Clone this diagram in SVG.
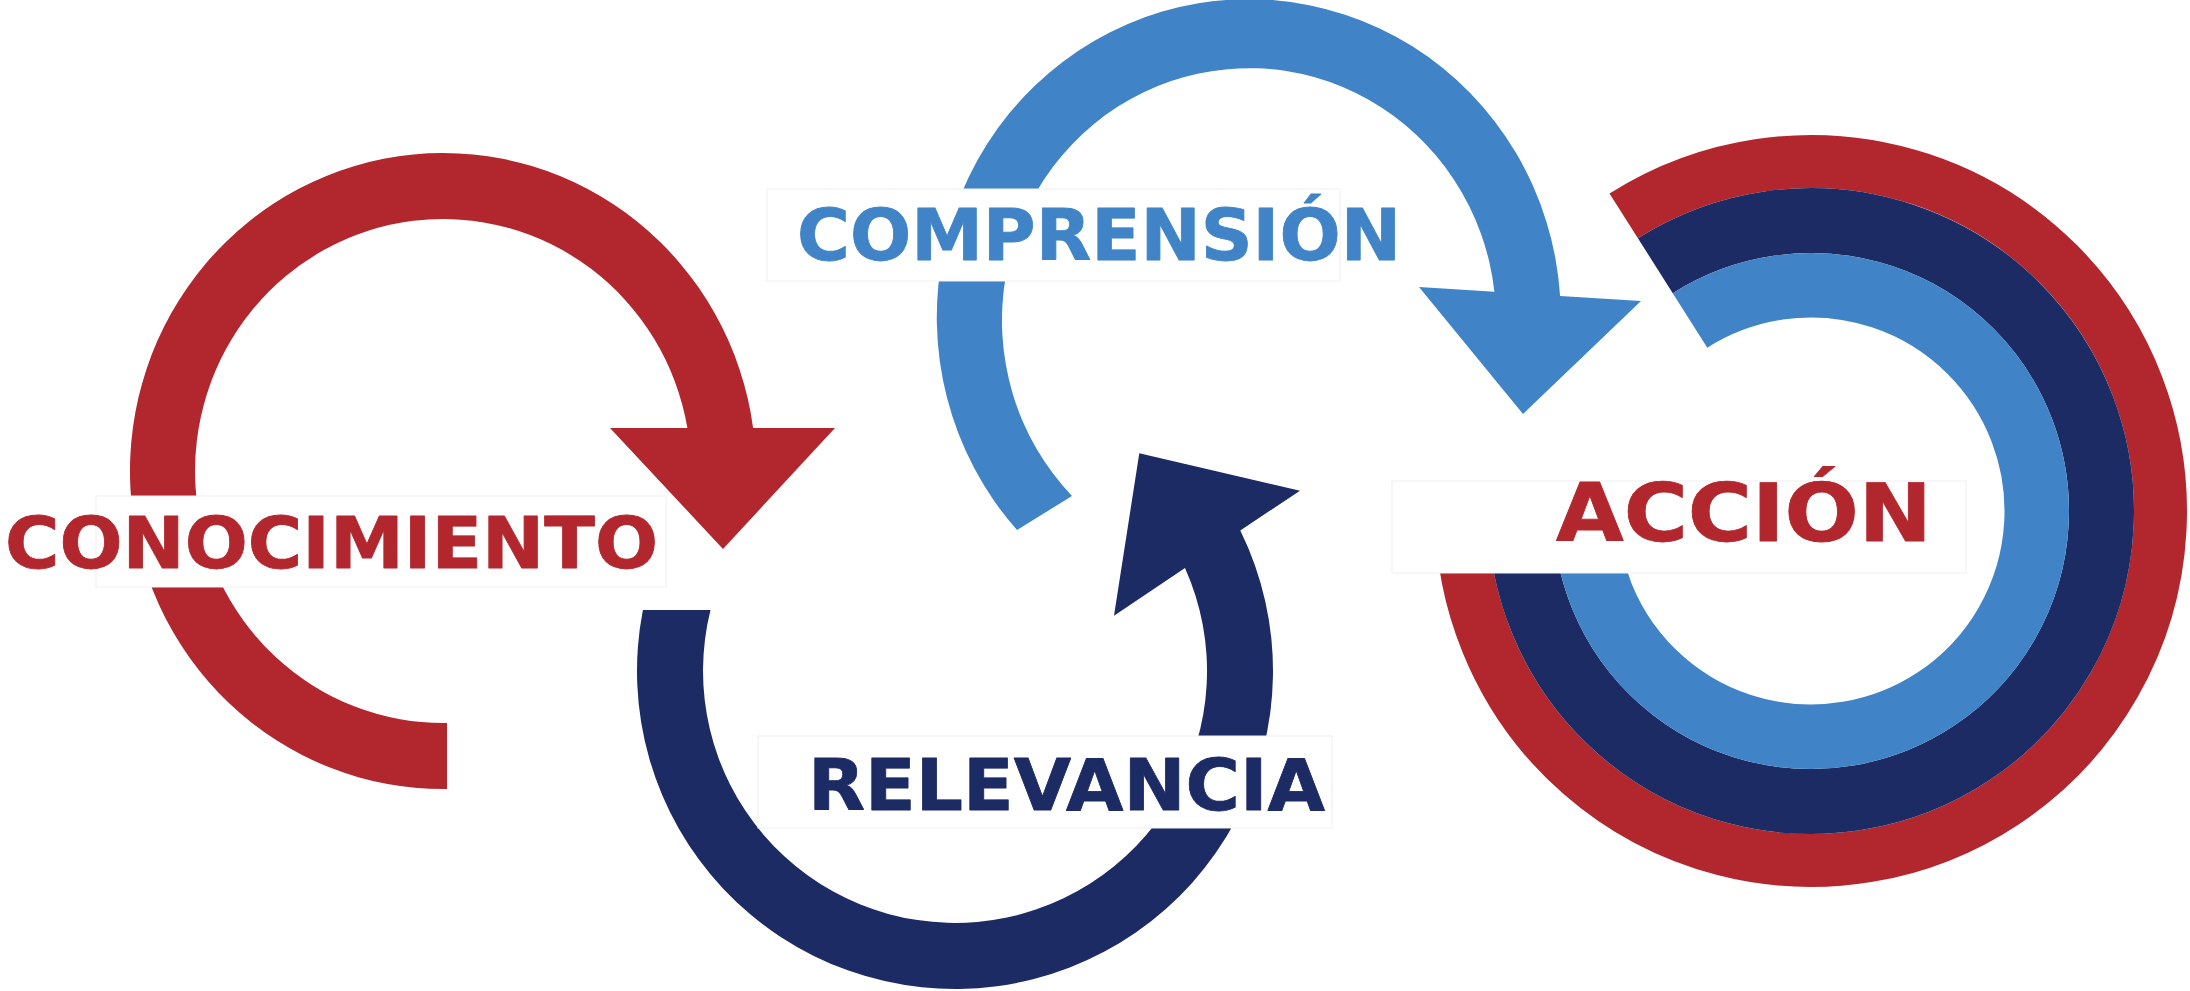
<svg xmlns="http://www.w3.org/2000/svg" width="2190" height="991" viewBox="0 0 2190 991">
  <style>
    .red { fill: #B2272E; }
    .navy { fill: #1C2B64; }
    .blue { fill: #4084C7; }
    .ring { fill: none; stroke-linecap: butt; }
    .box { fill: #ffffff; stroke: #f0f0f0; stroke-width: 1; }
    .label { font-family: "DejaVu Sans", "Liberation Sans", sans-serif; font-weight: bold; stroke-width: 0.8; stroke-linejoin: round; }
    .lbl-red { fill: #B2272E; stroke: #B2272E; }
    .lbl-navy { fill: #1C2B64; stroke: #1C2B64; }
    .lbl-blue { fill: #4084C7; stroke: #4084C7; }
  </style>
  <rect width="2190" height="991" fill="#ffffff"/>

  <!-- ACCIÓN: three concentric bands opening at the upper left -->
  <g id="accion">
    <path class="ring" stroke="#B2272E" stroke-width="53" d="M 1623.7 215.9 A 349.5 349.5 0 1 1 1461.7 498.8"/>
    <path class="ring" stroke="#1C2B64" stroke-width="65" d="M 1655.35 265.73 A 290.5 290.5 0 1 1 1520.68 500.86"/>
    <path class="ring" stroke="#4084C7" stroke-width="64.5" d="M 1690.04 320.4 A 225.75 225.75 0 1 1 1585.39 503.12"/>
    <rect class="box" x="1392" y="481" width="574" height="92"/>
    <text class="label lbl-red" x="1556" y="540.5" font-size="80" textLength="376" lengthAdjust="spacingAndGlyphs">ACCIÓN</text>
  </g>

  <!-- Curved arrows between the stages -->
  <g id="connectors">
    <path id="arrow-conocimiento" class="red" d="M 447 789 A 313 318 0 1 1 753.1 428 L 835 428 L 723 549 L 610 428 L 687.4 428 A 248 252 0 1 0 447 723 Z"/>
    <path id="arrow-comprension" class="blue" d="M 1017 530 A 312 318 0 1 1 1560.1 295.9 L 1641 301 L 1523 414 L 1419 287 L 1494.4 291.8 A 247 252 0 1 0 1072 496 Z"/>
    <path id="arrow-relevancia" class="navy" d="M 642.9 610 A 318 318 0 1 0 1240.3 530.5 L 1300 490.7 L 1139.3 453.3 L 1114 615.7 L 1185 567.9 A 252 252 0 1 1 710.5 610 Z"/>
  </g>

  <g id="conocimiento">
    <rect class="box" x="96" y="496" width="570" height="91"/>
    <text class="label lbl-red" x="5" y="568" font-size="71" textLength="653" lengthAdjust="spacingAndGlyphs">CONOCIMIENTO</text>
  </g>

  <g id="comprension">
    <rect class="box" x="767" y="189" width="573" height="92"/>
    <text class="label lbl-blue" x="797" y="259.5" font-size="71" textLength="604" lengthAdjust="spacingAndGlyphs">COMPRENSIÓN</text>
  </g>

  <g id="relevancia">
    <rect class="box" x="758" y="736" width="574" height="92"/>
    <text class="label lbl-navy" x="808" y="809.5" font-size="71" textLength="517" lengthAdjust="spacingAndGlyphs">RELEVANCIA</text>
  </g>
</svg>
